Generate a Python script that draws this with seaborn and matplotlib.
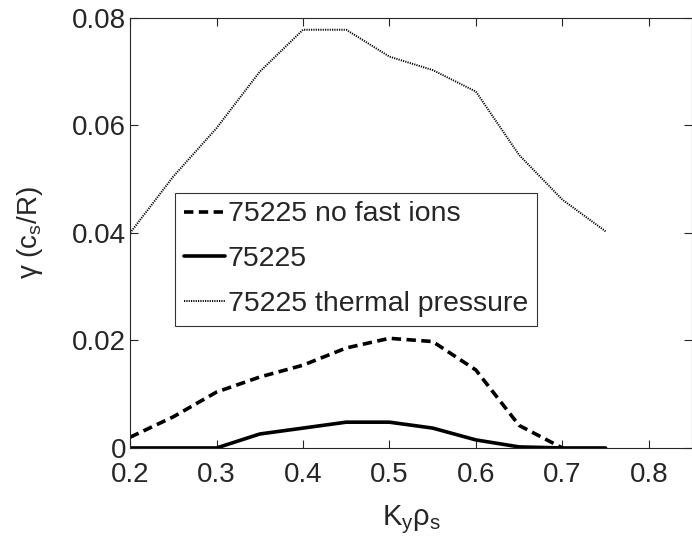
import matplotlib
matplotlib.use("Agg")
import matplotlib.pyplot as plt
import seaborn as sns
import pandas as pd

k = [0.2, 0.25, 0.3, 0.35, 0.4, 0.45, 0.5, 0.55, 0.6, 0.65, 0.7, 0.75]
no_fast = [0.002, 0.0058, 0.0104, 0.0132, 0.0154, 0.0186, 0.0204, 0.0198, 0.0145, 0.0042, 0.0, None]
full = [0.0, 0.0, 0.0, 0.0026, 0.0037, 0.0048, 0.0048, 0.0037, 0.0015, 0.0002, 0.0, 0.0]
thermal = [0.040, 0.0505, 0.0595, 0.0700, 0.0778, 0.0778, 0.0728, 0.0703, 0.0663, 0.0545, 0.0462, 0.0403]
labels = ["75225 no fast ions", "75225", "75225 thermal pressure"]

sns.set_style("ticks")
plt.rcParams["font.family"] = ["Liberation Sans", "DejaVu Sans"]
plt.rcParams["mathtext.default"] = "regular"
plt.rcParams["mathtext.fontset"] = "custom"
plt.rcParams["mathtext.rm"] = "Liberation Sans"

fig = plt.figure(figsize=(6.92, 5.43), dpi=100)
ax = fig.add_axes([0.188, 0.175, 0.812, 0.792])

series = [
    (no_fast, labels[0], dict(lw=2.6, dashes=(2.6, 1.5))),
    (full, labels[1], dict(lw=2.6)),
    (thermal, labels[2], dict(lw=1.4, dashes=(0.6, 0.6))),
]
for vals, lab, kw in series:
    df = pd.DataFrame({"k": k, "g": vals}).dropna()
    sns.lineplot(data=df, x="k", y="g", ax=ax, color="black", label=lab, **kw)

ax.set_xlim(0.2, 0.85)
ax.set_ylim(0, 0.08)
ax.set_xticks([0.2, 0.3, 0.4, 0.5, 0.6, 0.7, 0.8])
ax.set_xticklabels(["0.2", "0.3", "0.4", "0.5", "0.6", "0.7", "0.8"])
ax.set_yticks([0, 0.02, 0.04, 0.06, 0.08])
ax.set_yticklabels(["0", "0.02", "0.04", "0.06", "0.08"])
ax.tick_params(direction="in", top=True, right=True, length=6, width=0.8,
               labelsize=20, pad=3)
ax.tick_params(axis="x", pad=10)
for s in ax.spines.values():
    s.set_linewidth(0.8)
    s.set_visible(True)
ax.set_xlabel(r"K$_y$ρ$_s$", fontsize=21, labelpad=11)
ax.set_ylabel(r"γ (c$_s$/R)", fontsize=20, labelpad=19)

leg = ax.legend(loc="upper left", bbox_to_anchor=(0.08, 0.593), fontsize=20.5,
                frameon=True, fancybox=False, edgecolor="black",
                handlelength=1.45, handletextpad=0.1, labelspacing=0.66,
                borderpad=0.3, borderaxespad=0)
leg.get_frame().set_linewidth(0.8)

fig.savefig("out.png", dpi=100)
